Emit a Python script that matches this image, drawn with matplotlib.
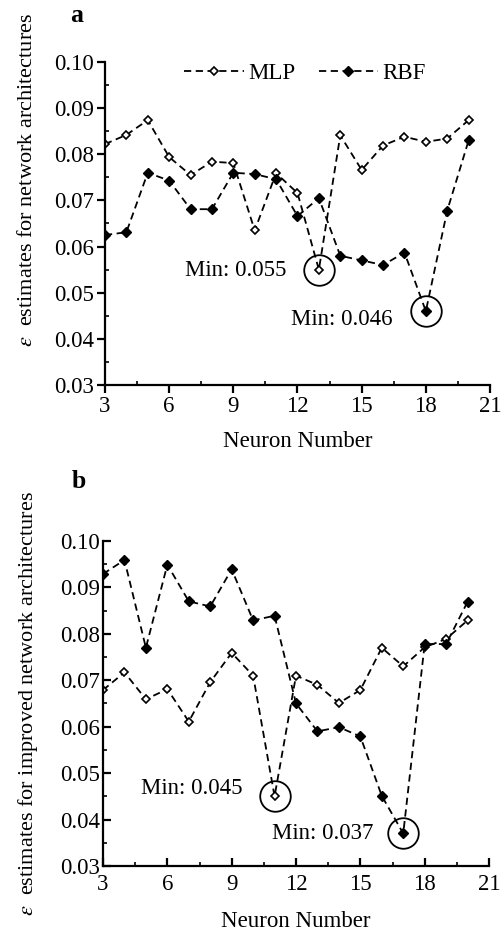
import numpy as np
import matplotlib
matplotlib.use("Agg")
import matplotlib.pyplot as plt
from matplotlib.ticker import MultipleLocator, FormatStrFormatter

plt.rcParams['font.family'] = ['Liberation Serif', 'DejaVu Serif']
plt.rcParams['mathtext.fontset'] = 'stix'

neurons = list(range(3, 21))

mlp_a = [0.0822, 0.0842, 0.0874, 0.0794, 0.0755, 0.0784, 0.0781, 0.0635, 0.0759,
         0.0716, 0.0550, 0.0841, 0.0766, 0.0819, 0.0838, 0.0827, 0.0834, 0.0874]
rbf_a = [0.0625, 0.0631, 0.0760, 0.0743, 0.0681, 0.0681, 0.0760, 0.0757, 0.0746,
         0.0666, 0.0705, 0.0580, 0.0570, 0.0560, 0.0587, 0.0460, 0.0678, 0.0830]

mlp_b = [0.0679, 0.0717, 0.0659, 0.0681, 0.0611, 0.0696, 0.0759, 0.0710, 0.0450,
         0.0710, 0.0690, 0.0651, 0.0679, 0.0770, 0.0730, 0.0771, 0.0789, 0.0829]
rbf_b = [0.0929, 0.0959, 0.0770, 0.0949, 0.0870, 0.0859, 0.0939, 0.0829, 0.0839,
         0.0650, 0.0590, 0.0599, 0.0579, 0.0451, 0.0370, 0.0778, 0.0778, 0.0869]

series_names = ['MLP', 'RBF']
xticks = [3, 6, 9, 12, 15, 18, 21]
yticks = [0.03, 0.04, 0.05, 0.06, 0.07, 0.08, 0.09, 0.10]

fig = plt.figure(figsize=(5.03, 9.42), dpi=100)
ax_a = fig.add_axes([0.2087, 0.5913, 0.7655, 0.3429])
ax_b = fig.add_axes([0.2048, 0.0807, 0.7674, 0.3450])

FS = 16.5

def draw(ax, mlp, rbf, tickdir, xpad, lpad):
    ax.plot(neurons, mlp, linestyle=(0, (4, 2.5)), color='black', lw=1.3,
            marker='D', markersize=4.5, markerfacecolor='white',
            markeredgecolor='black', markeredgewidth=1.2, label=series_names[0])
    ax.plot(neurons, rbf, linestyle=(0, (4, 2.5)), color='black', lw=1.3,
            marker='D', markersize=5, markerfacecolor='black',
            markeredgecolor='black', label=series_names[1])
    ax.set_xlim(3, 21)
    ax.set_ylim(0.03, 0.10)
    ax.set_xticks(xticks)
    ax.set_yticks(yticks)
    ax.yaxis.set_major_formatter(FormatStrFormatter('%.2f'))
    ax.xaxis.set_minor_locator(MultipleLocator(1.5))
    ax.yaxis.set_minor_locator(MultipleLocator(0.005))
    for s in ['top', 'right']:
        ax.spines[s].set_visible(False)
    for s in ['left', 'bottom']:
        ax.spines[s].set_linewidth(1.6)
    ax.tick_params(which='major', direction=tickdir, length=6, width=1.6,
                   labelsize=FS, pad=2)
    ax.tick_params(axis='x', which='major', pad=xpad)
    ax.tick_params(which='minor', direction='in', length=3, width=1.2)
    ax.set_xlabel('Neuron Number', fontsize=FS, labelpad=lpad)
    # circles around minima
    for vals in (mlp, rbf):
        i = int(np.argmin(vals))
        ax.plot(neurons[i], vals[i], marker='o', markersize=22,
                markerfacecolor='none', markeredgecolor='black',
                markeredgewidth=1.3, linestyle='none', clip_on=False)

draw(ax_a, mlp_a, rbf_a, 'out', 2, 10)
draw(ax_b, mlp_b, rbf_b, 'in', 6, 11.5)

ax_a.legend(loc='upper center', bbox_to_anchor=(0.52, 1.06), ncol=2, frameon=False,
            fontsize=FS, handlelength=2.6, columnspacing=1.0, handletextpad=0.2)

ax_a.text(11.5, 0.0549, 'Min: 0.055', ha='right', va='center', fontsize=FS)
ax_a.text(16.45, 0.0443, 'Min: 0.046', ha='right', va='center', fontsize=FS)
ax_b.text(9.5, 0.0466, 'Min: 0.045', ha='right', va='center', fontsize=FS)
ax_b.text(15.6, 0.0371, 'Min: 0.037', ha='right', va='center', fontsize=FS)

fig.text(28/503, 1 - 180/942, r'$\varepsilon$  estimates for network architectures',
         rotation=90, ha='center', va='center', fontsize=FS - 0.5)
fig.text(28/503, 1 - 704/942, r'$\varepsilon$  estimates for improved network architectures',
         rotation=90, ha='center', va='center', fontsize=FS - 0.5)

fig.text(77/503, 1 - 16/942, 'a', fontsize=FS + 2, fontweight='bold', ha='center', va='center')
fig.text(79/503, 1 - 481/942, 'b', fontsize=FS + 2, fontweight='bold', ha='center', va='center')

fig.savefig('out.png', dpi=100)
